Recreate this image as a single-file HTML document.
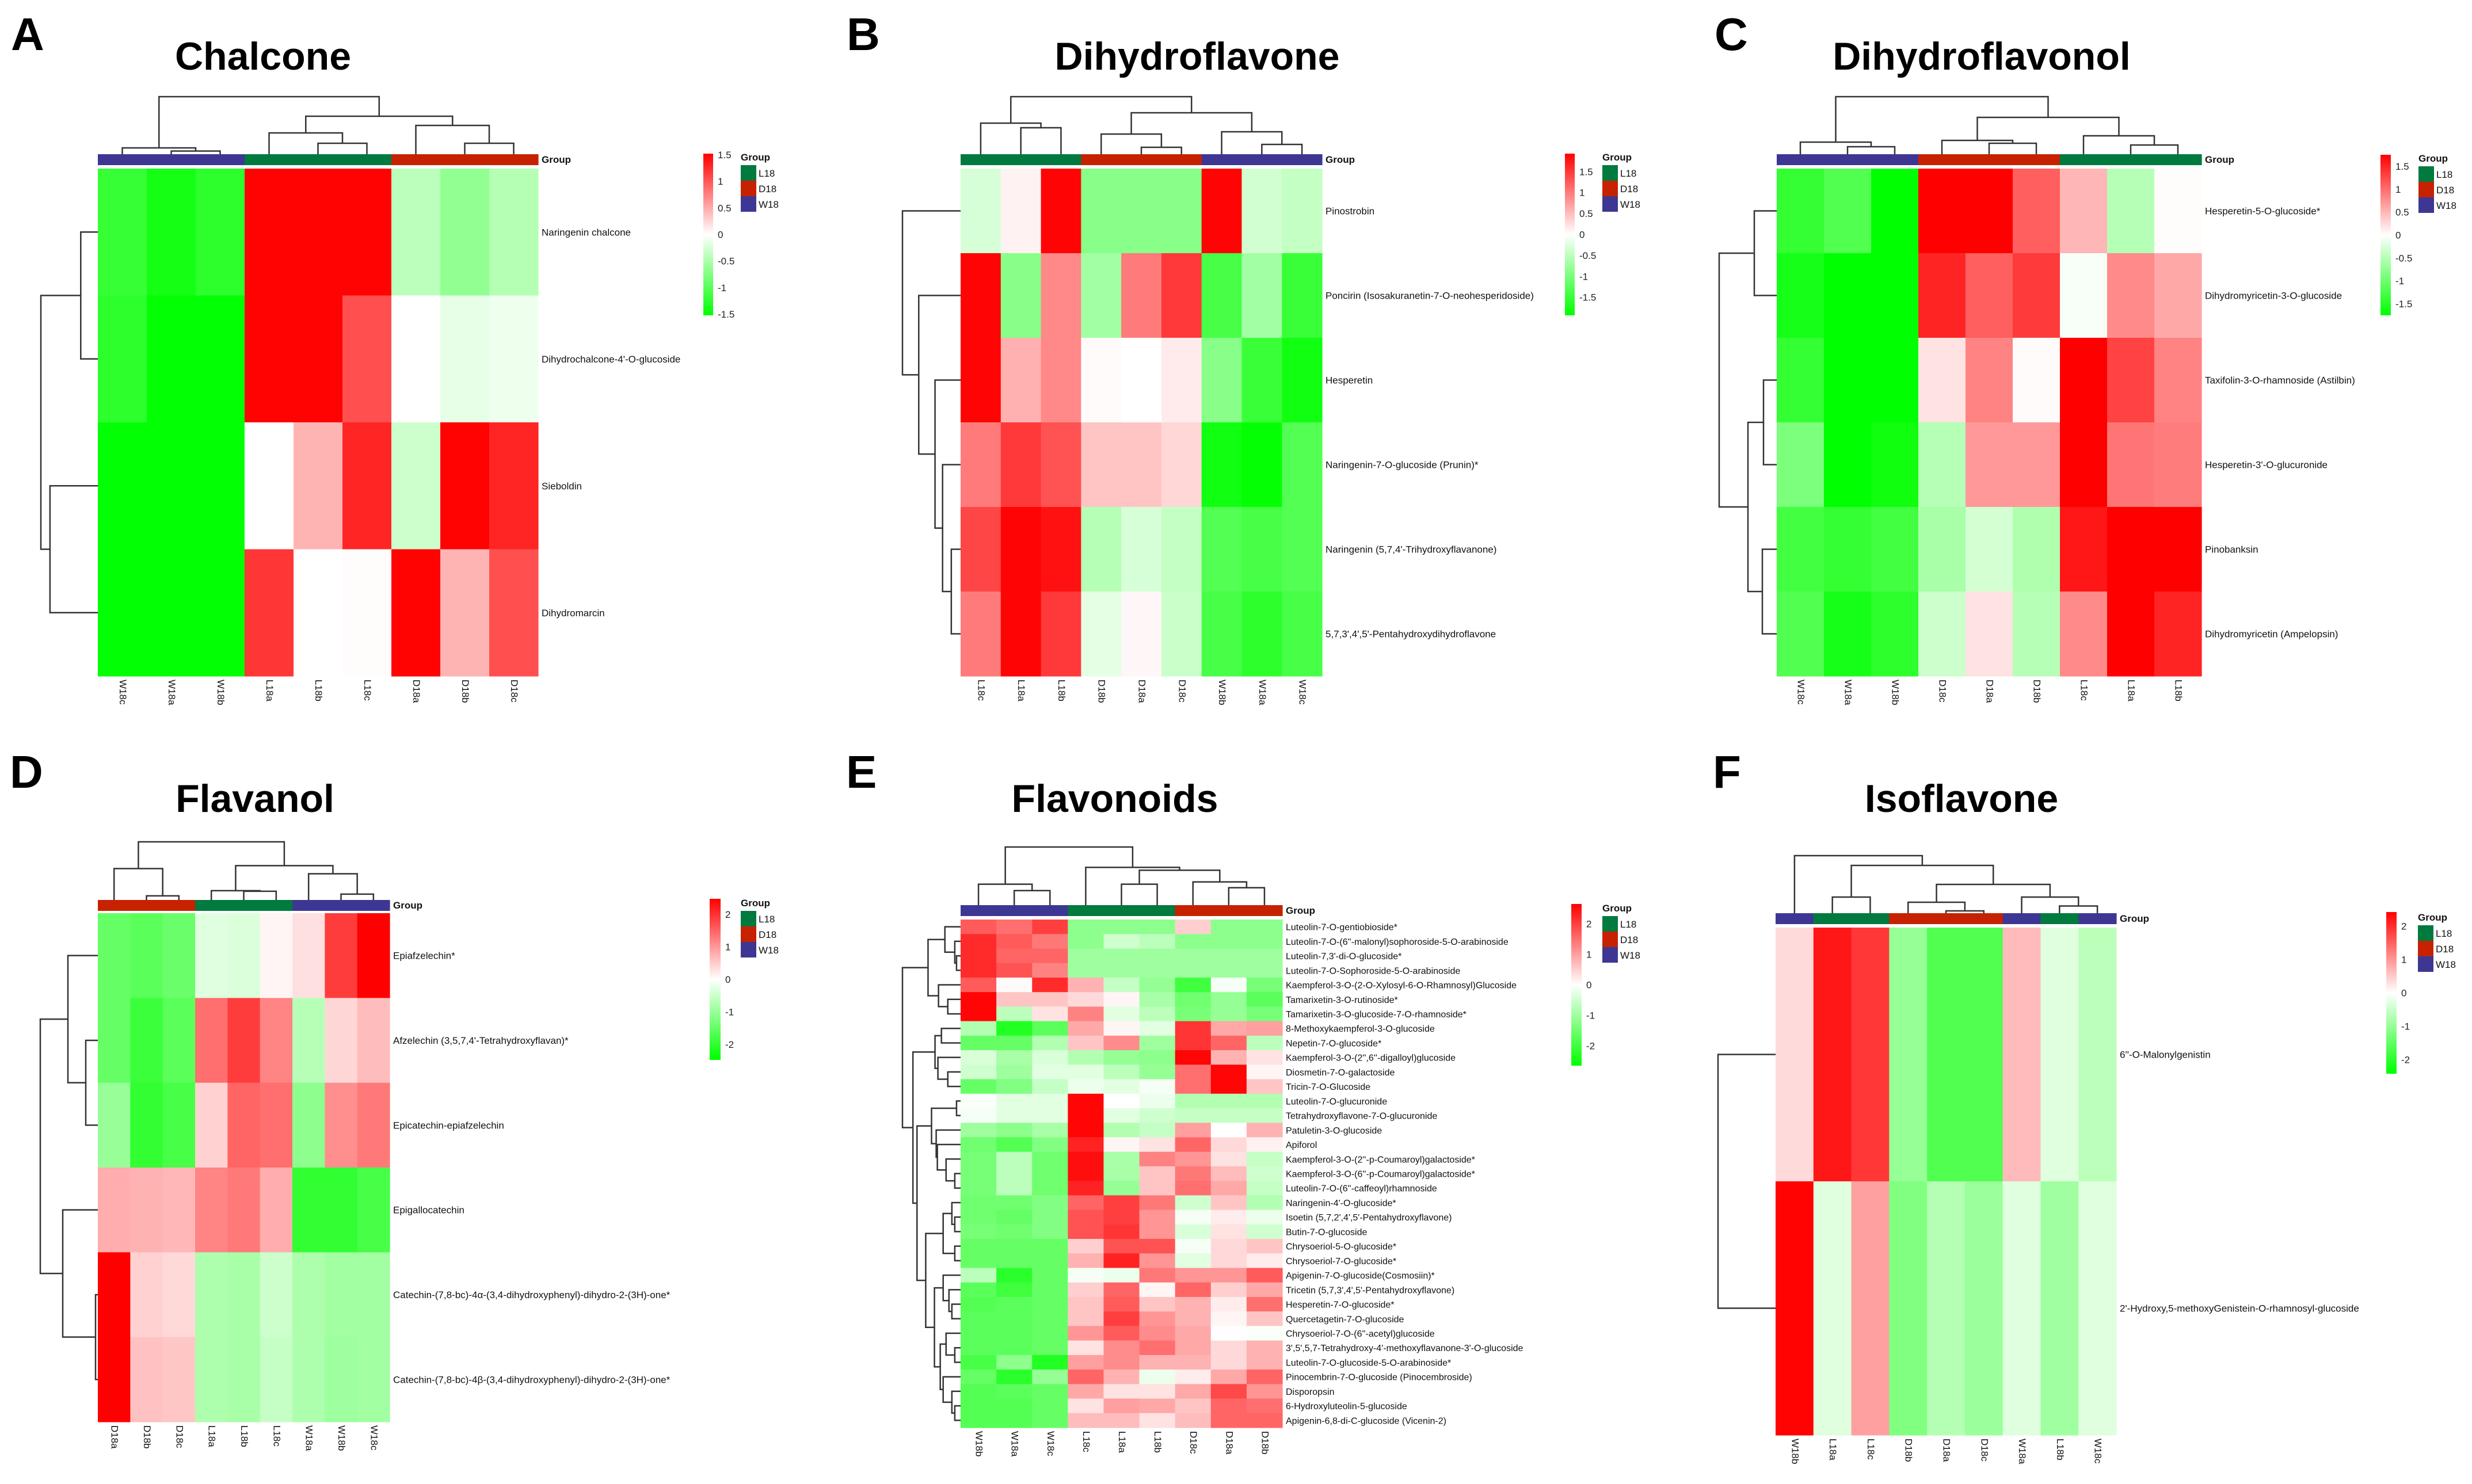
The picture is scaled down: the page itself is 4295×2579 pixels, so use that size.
<!DOCTYPE html>
<html><head><meta charset="utf-8"><title>Flavonoid heatmaps</title>
<style>
html,body{margin:0;padding:0;background:#fff;}
svg{display:block;font-family:"Liberation Sans",Arial,sans-serif;}
</style></head>
<body>
<svg id="fig" xmlns="http://www.w3.org/2000/svg" width="4295" height="2579" viewBox="0 0 4295 2579">
<defs>
<linearGradient id="cbar" x1="0" y1="0" x2="0" y2="1">
<stop offset="0" stop-color="#ff0000"/><stop offset="0.5" stop-color="#ffffff"/><stop offset="1" stop-color="#00ff00"/>
</linearGradient>
</defs>
</svg>
<script>
// ---------- A: Chalcone ----------
const chalconeCols = ["W18c","W18a","W18b","L18a","L18b","L18c","D18a","D18b","D18c"];
const chalconeRows = ["Naringenin chalcone","Dihydrochalcone-4'-O-glucoside","Sieboldin","Dihydromarcin"];
const chalconeValues = [
 [-1.2,-1.4,-1.25,1.5,1.5,1.5,-0.4,-0.65,-0.45],
 [-1.25,-1.5,-1.5,1.5,1.5,1.05,0,-0.15,-0.1],
 [-1.5,-1.5,-1.5,0,0.45,1.3,-0.3,1.5,1.3],
 [-1.5,-1.5,-1.5,1.2,0,0.02,1.5,0.45,1.05]];
const chalconeColTree = [1,[0.11,0,[0.055,1,2]],[0.66,[0.37,3,[0.19,4,5]],[0.5,6,[0.19,7,8]]]];
const chalconeRowTree = [1,[0.3,0,1],[0.84,2,3]];
const chalconeTicks = [1.5,1,0.5,0,-0.5,-1,-1.5];

// ---------- B: Dihydroflavone ----------
const dihydroflavoneCols = ["L18c","L18a","L18b","D18b","D18a","D18c","W18b","W18a","W18c"];
const dihydroflavoneRows = ["Pinostrobin","Poncirin (Isosakuranetin-7-O-neohesperidoside)","Hesperetin","Naringenin-7-O-glucoside (Prunin)*","Naringenin (5,7,4'-Trihydroxyflavanone)","5,7,3',4',5'-Pentahydroxydihydroflavone"];
const dihydroflavoneValues = [
 [-0.3,0.1,1.9,-0.9,-0.9,-0.9,1.9,-0.35,-0.45],
 [1.9,-0.9,0.9,-0.7,1.0,1.5,-1.4,-0.7,-1.5],
 [1.9,0.6,0.9,0.03,0,0.15,-0.9,-1.5,-1.8],
 [1.0,1.5,1.3,0.45,0.45,0.3,-1.8,-1.9,-1.3],
 [1.4,1.9,1.8,-0.55,-0.3,-0.45,-1.3,-1.4,-1.3],
 [1.0,1.9,1.5,-0.2,0.06,-0.4,-1.4,-1.6,-1.4]];
const dihydroflavoneColTree = [1,[0.54,0,[0.46,1,2]],[0.72,[0.35,3,[0.12,4,5]],[0.39,6,[0.17,7,8]]]];
const dihydroflavoneRowTree = [1,0,[0.72,1,[0.44,2,[0.31,3,[0.16,4,5]]]]];
const dihydroflavoneTicks = [1.5,1,0.5,0,-0.5,-1,-1.5];

// ---------- C: Dihydroflavonol ----------
const dihydroflavonolCols = ["W18c","W18a","W18b","D18c","D18a","D18b","L18c","L18a","L18b"];
const dihydroflavonolRows = ["Hesperetin-5-O-glucoside*","Dihydromyricetin-3-O-glucoside","Taxifolin-3-O-rhamnoside (Astilbin)","Hesperetin-3'-O-glucuronide","Pinobanksin","Dihydromyricetin (Ampelopsin)"];
const dihydroflavonolValues = [
 [-1.4,-1.2,-1.75,1.75,1.75,1.1,0.5,-0.5,0.02],
 [-1.6,-1.75,-1.75,1.5,1.1,1.35,-0.05,0.8,0.6],
 [-1.4,-1.75,-1.75,0.2,0.85,0.03,1.75,1.3,0.85],
 [-0.9,-1.75,-1.65,-0.5,0.7,0.7,1.75,0.95,0.9],
 [-1.3,-1.4,-1.3,-0.6,-0.3,-0.55,1.6,1.75,1.75],
 [-1.2,-1.6,-1.45,-0.35,0.2,-0.5,0.8,1.75,1.5]];
const dihydroflavonolColTree = [1,[0.21,0,[0.13,1,2]],[0.64,[0.24,3,[0.19,4,5]],[0.32,6,[0.16,7,8]]]];
const dihydroflavonolRowTree = [1,[0.39,0,1],[0.5,[0.23,2,3],[0.25,4,5]]];
const dihydroflavonolTicks = [1.5,1,0.5,0,-0.5,-1,-1.5];

// ---------- D: Flavanol ----------
const flavanolCols = ["D18a","D18b","D18c","L18a","L18b","L18c","W18a","W18b","W18c"];
const flavanolRows = ["Epiafzelechin*","Afzelechin (3,5,7,4'-Tetrahydroxyflavan)*","Epicatechin-epiafzelechin","Epigallocatechin","Catechin-(7,8-bc)-4\u03b1-(3,4-dihydroxyphenyl)-dihydro-2-(3H)-one*","Catechin-(7,8-bc)-4\u03b2-(3,4-dihydroxyphenyl)-dihydro-2-(3H)-one*"];
const flavanolValues = [
 [-1.5,-1.6,-1.45,-0.3,-0.35,0.1,0.3,1.9,2.5],
 [-1.5,-1.9,-1.6,1.4,1.9,1.2,-0.7,0.4,0.65],
 [-1.0,-2.0,-1.8,0.45,1.5,1.4,-1.1,1.1,1.3],
 [0.8,0.75,0.7,1.2,1.3,0.8,-2.0,-2.0,-1.8],
 [2.5,0.45,0.38,-0.8,-0.85,-0.5,-0.8,-0.9,-0.9],
 [2.5,0.6,0.55,-0.8,-0.85,-0.55,-0.8,-0.95,-0.9]];
const flavanolColTree = [1,[0.54,0,[0.07,1,2]],[0.59,[0.16,3,[0.15,4,5]],[0.45,6,[0.1,7,8]]]];
const flavanolRowTree = [1,[0.52,0,[0.21,1,2]],[0.61,3,[0.04,4,5]]];
const flavanolTicks = [2,1,0,-1,-2];

// ---------- E: Flavonoids ----------
const flavonoidsCols = ["W18b","W18a","W18c","L18c","L18a","L18b","D18c","D18a","D18b"];
const flavonoidsRows = ["Luteolin-7-O-gentiobioside*","Luteolin-7-O-(6''-malonyl)sophoroside-5-O-arabinoside","Luteolin-7,3'-di-O-glucoside*","Luteolin-7-O-Sophoroside-5-O-arabinoside","Kaempferol-3-O-(2-O-Xylosyl-6-O-Rhamnosyl)Glucoside","Tamarixetin-3-O-rutinoside*","Tamarixetin-3-O-glucoside-7-O-rhamnoside*","8-Methoxykaempferol-3-O-glucoside","Nepetin-7-O-glucoside*","Kaempferol-3-O-(2'',6''-digalloyl)glucoside","Diosmetin-7-O-galactoside","Tricin-7-O-Glucoside","Luteolin-7-O-glucuronide","Tetrahydroxyflavone-7-O-glucuronide","Patuletin-3-O-glucoside","Apiforol","Kaempferol-3-O-(2''-p-Coumaroyl)galactoside*","Kaempferol-3-O-(6''-p-Coumaroyl)galactoside*","Luteolin-7-O-(6''-caffeoyl)rhamnoside","Naringenin-4'-O-glucoside*","Isoetin (5,7,2',4',5'-Pentahydroxyflavone)","Butin-7-O-glucoside","Chrysoeriol-5-O-glucoside*","Chrysoeriol-7-O-glucoside*","Apigenin-7-O-glucoside(Cosmosiin)*","Tricetin (5,7,3',4',5'-Pentahydroxyflavone)","Hesperetin-7-O-glucoside*","Quercetagetin-7-O-glucoside","Chrysoeriol-7-O-(6''-acetyl)glucoside","3',5',5,7-Tetrahydroxy-4'-methoxyflavanone-3'-O-glucoside","Luteolin-7-O-glucoside-5-O-arabinoside*","Pinocembrin-7-O-glucoside (Pinocembroside)","Disporopsin","6-Hydroxyluteolin-5-glucoside","Apigenin-6,8-di-C-glucoside (Vicenin-2)"];
const flavonoidsValues = [
 [1.7,1.5,2.0,-1.2,-1.2,-1.2,0.5,-1.2,-1.2],
 [2.2,1.7,1.4,-1.2,-0.5,-0.7,-1.2,-1.2,-1.2],
 [2.2,1.6,1.6,-1.0,-1.0,-1.0,-1.0,-1.0,-1.0],
 [2.2,1.8,1.3,-1.0,-1.0,-1.0,-1.0,-1.0,-1.0],
 [1.7,0.05,2.2,0.8,-0.6,-1.1,-2.0,-0.1,-1.4],
 [2.6,0.6,0.6,0.4,0.1,-0.9,-1.5,-1.1,-1.7],
 [2.6,-0.7,0.3,1.3,-0.3,-0.7,-1.4,-1.1,-1.4],
 [-0.8,-2.3,-1.7,0.9,0.1,-0.3,2.1,0.9,1.0],
 [-1.6,-1.6,-0.8,0.6,1.2,-1.0,2.1,1.6,-0.7],
 [-0.4,-0.9,-0.4,-0.8,-1.1,-1.2,2.6,0.8,0.3],
 [-0.5,-1.0,-0.3,-0.3,-0.7,-1.1,1.5,2.6,0.1],
 [-1.6,-1.3,-0.6,-0.2,-0.3,-0.1,1.5,2.6,0.6],
 [-0.05,-0.3,-0.3,2.6,0,-0.2,-0.8,-0.8,-0.8],
 [-0.1,-0.3,-0.3,2.6,-0.3,-0.5,-0.6,-0.6,-0.6],
 [-1.0,-1.2,-0.9,2.6,-0.8,-0.6,1.0,0,0.8],
 [-1.5,-1.8,-1.3,2.3,0.1,0.3,1.6,0.4,0.15],
 [-1.4,-0.7,-1.5,2.5,-0.9,1.3,1.1,0.3,-0.6],
 [-1.4,-0.7,-1.5,2.5,-0.9,0.6,1.4,0.7,-0.5],
 [-1.4,-0.7,-1.5,2.3,-1.1,0.6,1.5,0.9,-0.6],
 [-1.5,-1.5,-1.3,1.6,2.0,1.4,-0.5,0.6,-0.8],
 [-1.5,-1.6,-1.3,1.8,2.0,1.1,-0.1,0.2,-0.2],
 [-1.4,-1.5,-1.3,1.8,2.1,1.1,-0.4,0.3,-0.5],
 [-1.6,-1.6,-1.6,0.5,1.8,1.8,-0.1,0.4,0.6],
 [-1.6,-1.6,-1.6,0.8,2.3,1.1,-0.3,0.4,0.2],
 [-0.7,-2.2,-1.6,-0.1,-0.2,1.4,1.1,1.1,1.7],
 [-1.7,-2.0,-1.6,0.5,1.6,0.1,1.6,0.5,0.9],
 [-1.8,-1.7,-1.6,0.6,1.7,0.6,0.8,0.2,1.5],
 [-1.7,-1.7,-1.6,0.6,2.0,1.1,0.8,0.1,0.6],
 [-1.7,-1.7,-1.6,1.1,1.7,1.2,0.9,0.02,-0.05],
 [-1.7,-1.7,-1.6,0.3,1.2,1.5,0.9,0.4,0.8],
 [-1.9,-1.2,-2.3,1.0,1.2,0.8,0.8,0.4,0.8],
 [-1.6,-2.2,-1.1,1.6,0.8,-0.2,0.2,0.9,1.6],
 [-1.8,-1.7,-1.6,0.9,0.3,0.3,0.9,1.9,1.1],
 [-1.8,-1.8,-1.6,0.3,1.0,0.9,0.6,1.6,1.5],
 [-1.8,-1.8,-1.6,0.7,0.7,0.3,0.7,1.6,1.6]];
const flavonoidsColTree = [1,[0.36,0,[0.25,1,2]],[0.65,3,[0.6,[0.36,4,5],[0.4,6,[0.3,7,8]]]]];
const flavonoidsRowTree = [1,
 [0.56,[0.27,0,[0.1,1,[0.07,2,3]]],[0.38,4,[0.22,5,6]]],
 [0.82,[0.44,[0.33,7,8],[0.39,9,[0.22,10,11]]],
  [0.75,[0.5,[0.07,12,13],[0.42,14,[0.4,15,[0.25,16,[0.1,17,18]]]]],
   [0.6,[0.3,[0.15,19,[0.1,20,21]],[0.1,22,23]],
    [0.45,[0.3,24,[0.2,25,[0.15,26,27]]],[0.35,[0.25,28,[0.1,29,30]],[0.3,31,[0.15,32,[0.1,33,34]]]]]]]]];
const flavonoidsTicks = [2,1,0,-1,-2];

// ---------- F: Isoflavone ----------
const isoflavoneCols = ["W18b","L18a","L18c","D18b","D18a","D18c","W18a","L18b","W18c"];
const isoflavoneRows = ["6''-O-Malonylgenistin","2'-Hydroxy,5-methoxyGenistein-O-rhamnosyl-glucoside"];
const isoflavoneValues = [
 [0.35,2.2,1.9,-1.0,-1.65,-1.65,0.65,-0.3,-0.65],
 [2.4,-0.3,0.9,-1.2,-0.7,-0.95,-0.3,-0.9,-0.3]];
const isoflavoneColTree = [1,0,[0.83,[0.28,1,2],[0.5,[0.19,3,[0.04,4,5]],[0.28,6,[0.125,7,8]]]]];
const isoflavoneRowTree = [1,0,1];
const isoflavoneTicks = [2,1,0,-1,-2];

const groupColors = {L:"#007a3e", D:"#c62200", W:"#3d3793"};
const NS = "http://www.w3.org/2000/svg";
const svg = document.getElementById("fig");

function mk(parent, tag, attrs, text){
  const e = document.createElementNS(NS, tag);
  for (const k in attrs) e.setAttribute(k, attrs[k]);
  if (text !== undefined) e.textContent = text;
  parent.appendChild(e);
  return e;
}
function colorOf(v, vmax){
  const t = Math.max(-1, Math.min(1, v / vmax));
  if (t >= 0){ const c = Math.round(255*(1-t)); return `rgb(255,${c},${c})`; }
  const c = Math.round(255*(1+t)); return `rgb(${c},255,${c})`;
}

const panels = [
 {key:"chalcone", letter:"A", title:"Chalcone", cols:chalconeCols, rows:chalconeRows, vals:chalconeValues, ct:chalconeColTree, rt:chalconeRowTree, ticks:chalconeTicks,
  x0:170, x1:935, y0:293, y1:1175, barY:268, dendH:100, dendW:99, letterX:19, letterY:87, titleX:457, titleY:121, vmax:1.52,
  cbX:1222, cbW:17, cbY0:267, cbY1:548, glX:1287, glY:279},
 {key:"dihydroflavone", letter:"B", title:"Dihydroflavone", cols:dihydroflavoneCols, rows:dihydroflavoneRows, vals:dihydroflavoneValues, ct:dihydroflavoneColTree, rt:dihydroflavoneRowTree, ticks:dihydroflavoneTicks,
  x0:1669, x1:2297, y0:293, y1:1175, barY:268, dendH:100, dendW:101, letterX:1471, letterY:87, titleX:2080, titleY:121, vmax:1.93,
  cbX:2719, cbW:17, cbY0:267, cbY1:548, glX:2784, glY:279},
 {key:"dihydroflavonol", letter:"C", title:"Dihydroflavonol", cols:dihydroflavonolCols, rows:dihydroflavonolRows, vals:dihydroflavonolValues, ct:dihydroflavonolColTree, rt:dihydroflavonolRowTree, ticks:dihydroflavonolTicks,
  x0:3087, x1:3825, y0:293, y1:1175, barY:268, dendH:100, dendW:100, letterX:2979, letterY:87, titleX:3443, titleY:121, vmax:1.75,
  cbX:4136, cbW:18, cbY0:269, cbY1:548, glX:4202, glY:281},
 {key:"flavanol", letter:"D", title:"Flavanol", cols:flavanolCols, rows:flavanolRows, vals:flavanolValues, ct:flavanolColTree, rt:flavanolRowTree, ticks:flavanolTicks,
  x0:170, x1:677, y0:1587, y1:2471, barY:1564, dendH:101, dendW:100, letterX:17, letterY:1369, titleX:443, titleY:1411, vmax:2.48,
  cbX:1233, cbW:19, cbY0:1562, cbY1:1842, glX:1287, glY:1575},
 {key:"flavonoids", letter:"E", title:"Flavonoids", cols:flavonoidsCols, rows:flavonoidsRows, vals:flavonoidsValues, ct:flavonoidsColTree, rt:flavonoidsRowTree, ticks:flavonoidsTicks,
  x0:1669, x1:2228, y0:1598, y1:2481, barY:1573, dendH:101, dendW:101, letterX:1470, letterY:1369, titleX:1937, titleY:1411, vmax:2.65, small:true,
  cbX:2730, cbW:18, cbY0:1571, cbY1:1852, glX:2784, glY:1584},
 {key:"isoflavone", letter:"F", title:"Isoflavone", cols:isoflavoneCols, rows:isoflavoneRows, vals:isoflavoneValues, ct:isoflavoneColTree, rt:isoflavoneRowTree, ticks:isoflavoneTicks,
  x0:3085, x1:3677, y0:1612, y1:2494, barY:1587, dendH:100, dendW:100, letterX:2976, letterY:1369, titleX:3408, titleY:1411, vmax:2.42,
  cbX:4146, cbW:18, cbY0:1585, cbY1:1866, glX:4201, glY:1600}
];

panels.forEach(p => {
  const g = mk(svg, "g", {});
  
  
  const nC = p.cols.length, nR = p.rows.length;
  const cw = (p.x1 - p.x0) / nC, rh = (p.y1 - p.y0) / nR;
  const xOf = i => p.x0 + i*cw;
  const yOf = j => p.y0 + j*rh;

  const lt = mk(g, "text", {x:p.letterX, y:p.letterY, "font-size":80, "font-weight":"bold", fill:"#000"}, p.letter);
  
  
  const tt = mk(g, "text", {x:p.titleX, y:p.titleY, "font-size":68, "font-weight":"bold", "text-anchor":"middle", fill:"#000"}, p.title);
  
  

  p.vals.forEach((row, j) => row.forEach((v, i) => {
    const r = mk(g, "rect", {x:xOf(i), y:yOf(j), width:cw+0.6, height:rh+0.6, fill:colorOf(v, p.vmax)});
    
    
  }));

  p.cols.forEach((c, i) => {
    const r = mk(g, "rect", {x:xOf(i), y:p.barY, width:cw+0.6, height:19, fill:groupColors[c[0]]});
    
    
  });
  const gl = mk(g, "text", {x:p.x1+6, y:p.barY+15, "font-size":17, "font-weight":"bold", fill:"#111"}, "Group");
  
  

  const fs = p.small ? 16 : 17;
  p.rows.forEach((name, j) => {
    const t = mk(g, "text", {x:p.x1+6, y:yOf(j)+rh/2+6, "font-size":fs, fill:"#111"}, name);
    
    
  });
  p.cols.forEach((c, i) => {
    const cx = xOf(i) + cw/2, cy = p.y1 + 6;
    const t = mk(g, "text", {x:cx, y:cy, "font-size":17, fill:"#111", transform:`rotate(90 ${cx} ${cy})`, "dominant-baseline":"middle"}, c);
    
    
  });

  const cg = mk(g, "g", {stroke:"#333", "stroke-width":2.5, fill:"none"});
  
  
  function colNode(n){
    if (typeof n === "number") return {pos: xOf(n)+cw/2, y: p.barY};
    const a = colNode(n[1]), b = colNode(n[2]);
    const y = p.barY - n[0]*p.dendH;
    const path = mk(cg, "path", {d:`M${a.pos},${a.y}V${y}H${b.pos}V${b.y}`});
    
    
    return {pos:(a.pos+b.pos)/2, y:y};
  }
  colNode(p.ct);

  const rg = mk(g, "g", {stroke:"#333", "stroke-width":2.5, fill:"none"});
  
  
  function rowNode(n){
    if (typeof n === "number") return {pos: yOf(n)+rh/2, x: p.x0};
    const a = rowNode(n[1]), b = rowNode(n[2]);
    const x = p.x0 - n[0]*p.dendW;
    const path = mk(rg, "path", {d:`M${a.x},${a.pos}H${x}V${b.pos}H${b.x}`});
    
    
    return {pos:(a.pos+b.pos)/2, x:x};
  }
  rowNode(p.rt);

  const cb = mk(g, "rect", {x:p.cbX, y:p.cbY0, width:p.cbW, height:p.cbY1-p.cbY0, fill:"url(#cbar)"});
  
  
  const mid = (p.cbY0 + p.cbY1)/2, half = (p.cbY1 - p.cbY0)/2;
  p.ticks.forEach(tv => {
    const ty = mid - tv/p.vmax*half;
    const t = mk(g, "text", {x:p.cbX+p.cbW+8, y:ty+6, "font-size":17, fill:"#222"}, String(tv));
    
    
  });

  const lg = mk(g, "text", {x:p.glX, y:p.glY, "font-size":17, "font-weight":"bold", fill:"#111"}, "Group");
  
  
  [["L","L18"],["D","D18"],["W","W18"]].forEach((e, k) => {
    const sy = p.glY + 8 + k*27;
    const sq = mk(g, "rect", {x:p.glX, y:sy, width:27, height:27, fill:groupColors[e[0]]});
    
    
    const t = mk(g, "text", {x:p.glX+31, y:sy+20, "font-size":17, fill:"#111"}, e[1]);
    
    
  });
});
</script>
</body></html>
